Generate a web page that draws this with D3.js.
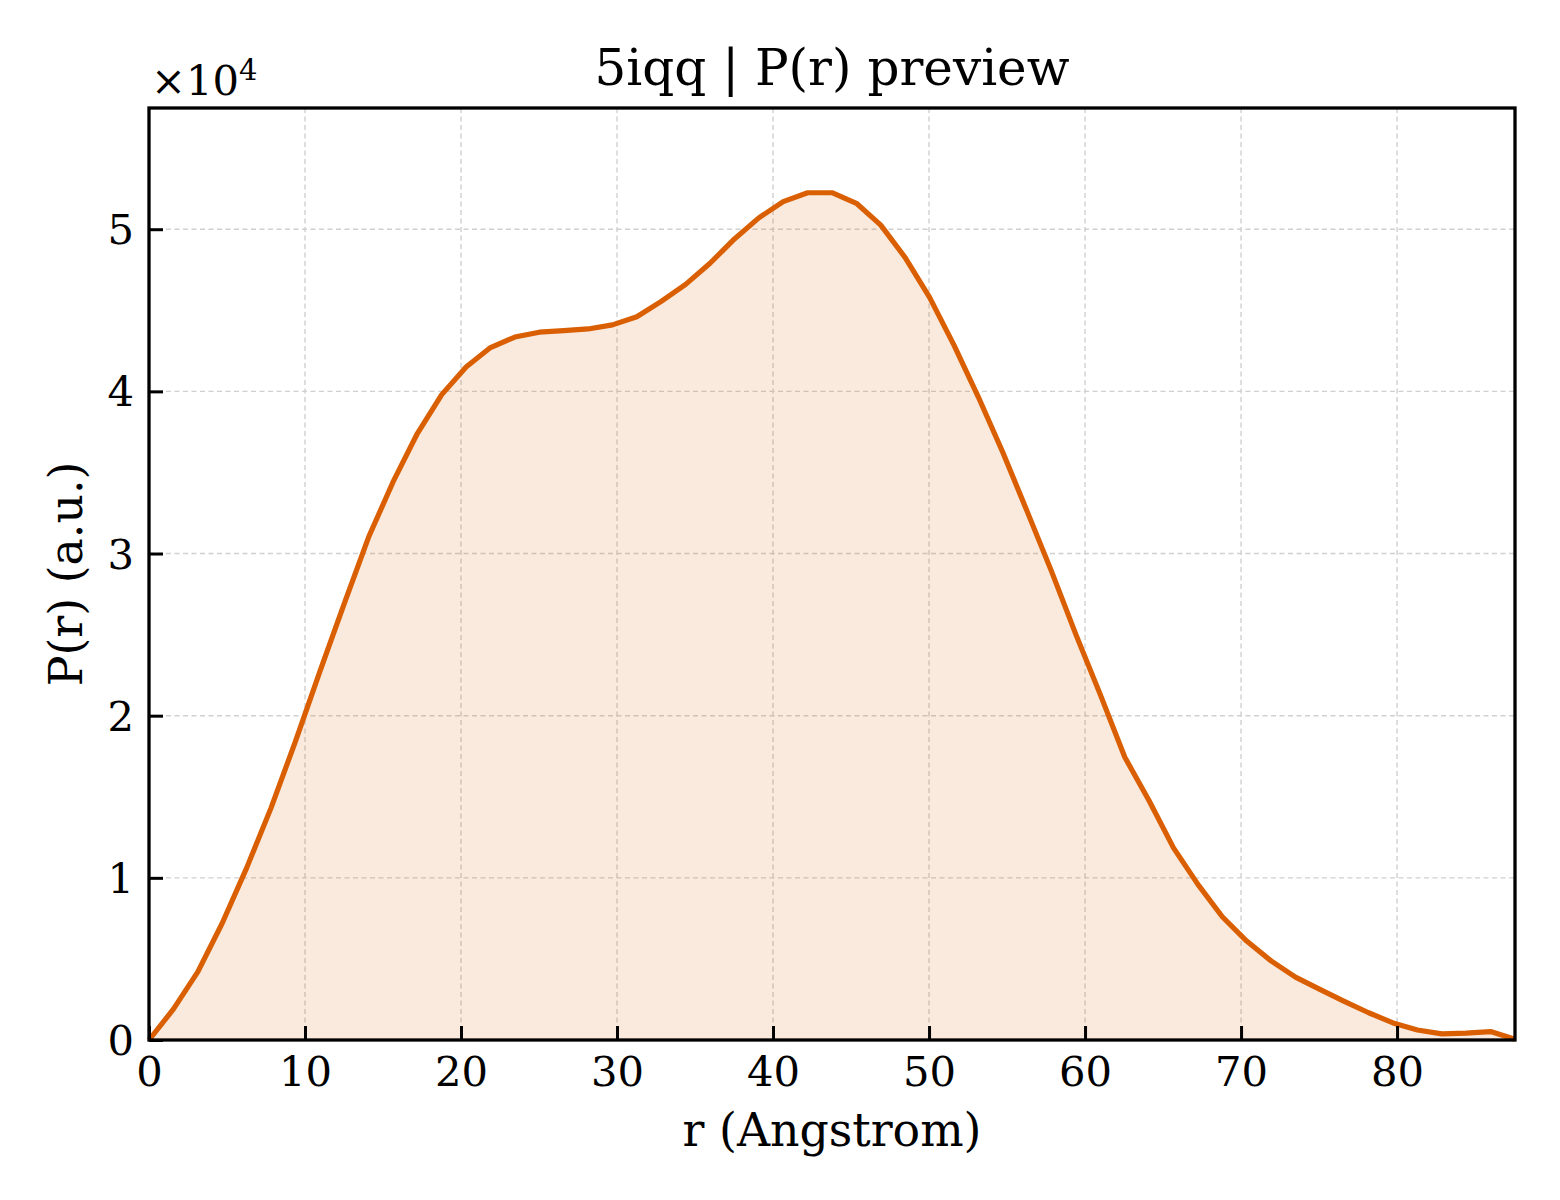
<!DOCTYPE html>
<html><head><meta charset="utf-8">
<script src="https://cdn.jsdelivr.net/npm/d3@7/dist/d3.min.js"></script>
<style>body{margin:0;background:#fff}svg{display:block}text{font-family:"DejaVu Serif",serif;fill:#000}</style>
</head><body><svg id="c" width="1560" height="1200"></svg>
<script>
const rMax = 87.56;
const rValues = d3.range(57).map(i => i * rMax / 56);
const prValues = [0, 1900, 4200, 7200, 10600, 14300, 18400, 22700, 26900, 31000, 34400, 37400, 39800, 41500, 42700, 43350, 43650, 43750, 43850, 44100, 44600, 45550, 46600, 47900, 49400, 50700, 51700, 52250, 52250, 51600, 50250, 48250, 45800, 42850, 39650, 36250, 32600, 28900, 25000, 21300, 17450, 14750, 11850, 9600, 7600, 6100, 4880, 3880, 3120, 2380, 1680, 1050, 620, 380, 420, 520, 50];
const xTicks = [0, 10, 20, 30, 40, 50, 60, 70, 80];
const yTicks = [0, 1, 2, 3, 4, 5];
const titleText = "5iqq | P(r) preview";
const xLabel = "r (Angstrom)";
const yLabel = "P(r) (a.u.)";

const svg = d3.select("#c");
const L = 149, R = 1515, T = 108, B = 1040;
const yMax = d3.max(prValues) * 1.1;
const x = d3.scaleLinear().domain([0, rMax]).range([L, R]);
const y = d3.scaleLinear().domain([0, yMax]).range([B, T]);
const data = rValues.map((r, i) => ({r, p: prValues[i]}));
const color = "#d95f02";

// grid
const grid = svg.append("g");
xTicks.forEach(t => grid.append("line").attr("x1", x(t)).attr("x2", x(t)).attr("y1", T).attr("y2", B)
  .attr("stroke", "#d0d0d0").attr("stroke-width", 1.4).attr("stroke-dasharray", "5,3.5"));
yTicks.forEach(t => grid.append("line").attr("x1", L).attr("x2", R).attr("y1", y(t * 1e4)).attr("y2", y(t * 1e4))
  .attr("stroke", "#d0d0d0").attr("stroke-width", 1.4).attr("stroke-dasharray", "5,3.5"));

// area + line
svg.append("path").datum(data)
  .attr("d", d3.area().x(d => x(d.r)).y0(y(0)).y1(d => y(d.p)))
  .attr("fill", color).attr("fill-opacity", 0.13);
svg.append("path").datum(data)
  .attr("d", d3.line().x(d => x(d.r)).y(d => y(d.p)))
  .attr("fill", "none").attr("stroke", color).attr("stroke-width", 5.2).attr("stroke-linejoin", "round");

// axes
const fs = 41.7;
const xAxis = svg.append("g").attr("transform", `translate(0,${B})`)
  .call(d3.axisBottom(x).tickValues(xTicks).tickSize(-14).tickPadding(16).tickFormat(d3.format("d")));
const yAxis = svg.append("g").attr("transform", `translate(${L},0)`)
  .call(d3.axisLeft(y).tickValues(yTicks.map(t => t * 1e4)).tickSize(-14).tickPadding(15).tickFormat(d => d3.format("d")(d / 1e4)));
[xAxis, yAxis].forEach(a => {
  a.select(".domain").remove();
  a.selectAll(".tick line").attr("stroke", "#000").attr("stroke-width", 3);
  a.selectAll(".tick text").attr("font-size", fs).attr("font-family", "DejaVu Serif").attr("fill", "#000");
});
yAxis.selectAll(".tick text").attr("dy", "0.35em");

// frame
svg.append("rect").attr("x", L).attr("y", T).attr("width", R - L).attr("height", B - T)
  .attr("fill", "none").attr("stroke", "#000").attr("stroke-width", 3.3);

// offset text
const off = svg.append("text").attr("x", 151).attr("y", 95).attr("font-size", fs);
off.append("tspan").text("×10");
off.append("tspan").attr("font-size", 29).attr("dy", -15).text("4");

// title and labels
svg.append("text").attr("x", (L + R) / 2).attr("y", 85).attr("text-anchor", "middle").attr("font-size", 50).text(titleText);
svg.append("text").attr("x", (L + R) / 2).attr("y", 1146).attr("text-anchor", "middle").attr("font-size", 45.8).text(xLabel);
svg.append("text").attr("transform", `translate(82,${(T + B) / 2}) rotate(-90)`).attr("text-anchor", "middle").attr("font-size", 45.8).text(yLabel);
</script></body></html>
